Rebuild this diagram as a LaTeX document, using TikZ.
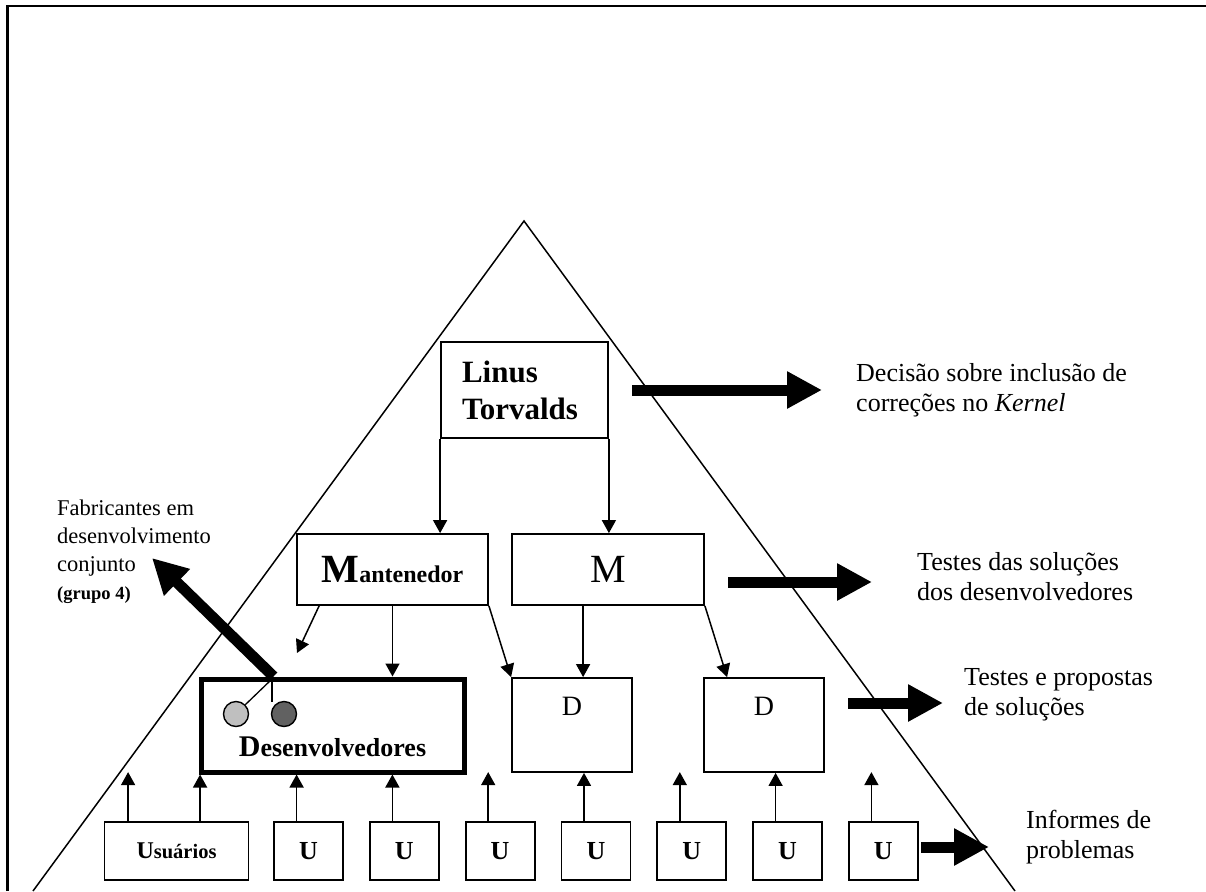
\documentclass[tikz,border=0pt]{standalone}
\usepackage{fontspec}
\setmainfont{Liberation Serif}
\usetikzlibrary{arrows.meta,calc}

\begin{document}
\begin{tikzpicture}[x=1pt,y=-1pt,
  box/.style={draw,line width=1.8pt,inner sep=0pt,align=center},
  thin/.style={line width=1.5pt,-{Triangle[width=14pt,length=13pt]}},
  fat/.style={line width=11pt,-{Triangle[width=35pt,length=35pt]}},
  lbl/.style={anchor=west,inner sep=0pt,align=left,font=\fontsize{26}{30}\selectfont},
  ubox/.style={box,minimum width=69pt,minimum height=58pt,font=\bfseries\fontsize{26}{30}\selectfont},
  dbox/.style={box,minimum width=120pt,minimum height=94pt},
  dot/.style={circle,draw,line width=1.4pt,minimum size=25pt,inner sep=0pt}]

\useasboundingbox (0,0) rectangle (1206,891);

% outer frame and pyramid
\draw[line width=2.2pt] (7.5,891) -- (7.5,6) -- (1206,6);
\draw[line width=1.5pt] (33,891) -- (524,221) -- (1015,891);

% top of the hierarchy
\node[box,minimum width=167pt,minimum height=96pt,text width=125pt,align=left,
      font=\bfseries\fontsize{31}{37}\selectfont] (linus) at (524.5,390) {Linus\\Torvalds};

% maintainers
\node[box,minimum width=191pt,minimum height=71pt,font=\bfseries] (mant) at (392.5,569.5)
  {\fontsize{40}{44}\selectfont M\fontsize{24}{28}\selectfont antenedor};
\node[box,minimum width=192pt,minimum height=71pt,font=\fontsize{40}{44}\selectfont] (mbox) at (608,569.5) {M};

% developers
\node[draw,line width=5pt,inner sep=0pt,minimum width=263pt,minimum height=93pt] (dev) at (332.5,725.5) {};
\node[font=\bfseries,inner sep=0pt] (devtxt) at (332.5,747)
  {\fontsize{30}{34}\selectfont D\fontsize{26}{30}\selectfont esenvolvedores};
\node[dot,fill=black!25] (c1) at (236,714) {};
\node[dot,fill=black!62] (c2) at (284,714) {};
\coordinate (fork) at (272,679);
\draw[line width=1.3pt] (fork) -- (c1.north east);
\draw[line width=1.3pt] (fork) -- (272,702);

\node[dbox] (d1) at (572,725) {};
\node[font=\fontsize{28}{32}\selectfont,inner sep=0pt] (d1txt) at (572,706) {D};
\node[dbox] (d2) at (764,725) {};
\node[font=\fontsize{28}{32}\selectfont,inner sep=0pt] (d2txt) at (764,706) {D};

% users
\node[box,minimum width=144pt,minimum height=58pt,font=\bfseries] (usr) at (176.5,851)
  {\fontsize{24}{28}\selectfont U\fontsize{20.5}{24}\selectfont suários};
\foreach \i/\x in {1/308.5,2/404.3,3/500.1,4/595.9,5/691.7,6/787.5,7/883.3}
  \node[ubox] (u\i) at (\x,851) {U};

% thin arrows down the hierarchy
\draw[thin] (linus.south west) -- (linus.south west |- mant.north);
\draw[thin] (linus.south east) -- (linus.south east |- mbox.north);
\coordinate (mfree) at (297,653);
\draw[thin] ([xshift=23pt]mant.south west) -- (mfree);
\draw[thin] (mant.south) -- (mant.south |- dev.north);
\draw[thin] (mant.south east) -- (d1.north west);
\coordinate (ma) at ([xshift=72pt]mbox.south west);
\draw[thin] (ma) -- (ma |- d1.north);
\draw[thin] (mbox.south east) -- ([xshift=24pt]d2.north west);

% thin arrows from the users
\coordinate (ua) at ([xshift=24.5pt]usr.north west);
\coordinate (ub) at ([xshift=96.5pt]usr.north west);
\draw[thin] (ua) -- ++(0,-49);
\draw[thin] (ub) -- (ub |- dev.south);
\foreach \i in {1,...,7}
  \coordinate (p\i) at ([xshift=23.5pt]u\i.north west);
\draw[thin] (p1) -- (p1 |- dev.south);
\draw[thin] (p2) -- (p2 |- dev.south);
\draw[thin] (p3) -- ++(0,-49);
\draw[thin] (p4) -- (p4 |- d1.south);
\draw[thin] (p5) -- ++(0,-49);
\draw[thin] (p6) -- (p6 |- d2.south);
\draw[thin] (p7) -- ++(0,-49);

% broad arrows to the role descriptions
\coordinate (f1s) at (632,390);  \coordinate (f1e) at (822,390);
\coordinate (f2s) at (728,582);  \coordinate (f2e) at (872,582);
\coordinate (f3s) at (848,703);  \coordinate (f3e) at (943,703);
\coordinate (f4s) at (921,847);  \coordinate (f4e) at (989,847);
\coordinate (f5s) at ([xshift=75pt]dev.north west);
\coordinate (f5e) at (152,558);
\draw[fat] (f1s) -- (f1e);
\draw[fat] (f2s) -- (f2e);
\draw[fat] (f3s) -- (f3e);
\draw[fat] (f4s) -- (f4e);
\draw[fat] (f5s) -- (f5e);

% role descriptions
\node[lbl] (lab1) at (856,390) {Decisão sobre inclusão de\\correções no \textit{Kernel}};
\node[lbl] (lab2) at (917,577) {Testes das soluções\\dos desenvolvedores};
\node[lbl] (lab3) at (964,695) {Testes e propostas\\de soluções};
\node[lbl] (lab4) at (1026,837) {Informes de\\problemas};
\node[lbl,font=\fontsize{22.5}{28}\selectfont] (lab5) at (57,552)
  {Fabricantes em\\desenvolvimento\\conjunto\\{\bfseries\fontsize{18.5}{28}\selectfont (grupo 4)}};
\end{tikzpicture}
\end{document}
